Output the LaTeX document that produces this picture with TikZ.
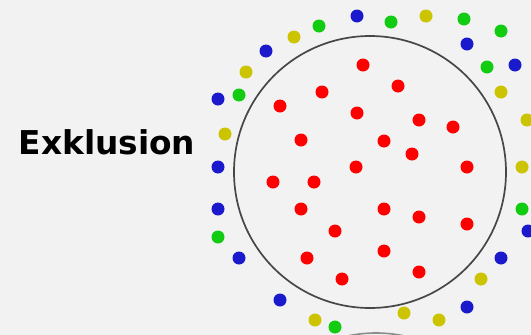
\documentclass[tikz,border=0pt]{standalone}
\usepackage{fontspec}
\setmainfont{DejaVu Sans}
\usepackage{xcolor}
\usetikzlibrary{positioning}
\definecolor{bgfarbe}{HTML}{F2F2F2}
\definecolor{rot}{HTML}{FF0000}
\definecolor{blau}{HTML}{1A1ACC}
\definecolor{gruen}{HTML}{11CC11}
\definecolor{gelb}{HTML}{CCC400}
\tikzset{
  punkt/.style={fill=#1,draw=none},
  rand/.style={draw=black!72,line width=1.7pt},
  titel/.style={font=\fontsize{32.8}{38}\selectfont\bfseries,anchor=base west,inner sep=0pt}
}

\begin{document}
\begin{tikzpicture}[x=1pt,y=-1pt]
\useasboundingbox[fill=bgfarbe] (0,0) rectangle (531,335);
% Kreise
\draw[rand] (370,172) circle (136);
\draw[draw=black!45,line width=1.6pt] (376,469) circle (136);
% Titel
\node[titel] (exklusion) at (18.5,154) {Exklusion};
% Punkte innen
\foreach \x/\y in {363/65,398/86,322/92,280/106,357/113,419/120,453/127,301/140,
  384/141,412/154,356/167,467/167,273/182,314/182,301/209,384/209,419/217,
  467/224,335/231,307/258,384/251,342/279,419/272}
  \fill[punkt=rot] (\x,\y) circle (6.5);
% Punkte aussen
\foreach \x/\y in {357/16,266/51,218/99,218/167,218/209,239/258,280/300,
  467/44,515/65,528/231,501/258,467/307}
  \fill[punkt=blau] (\x,\y) circle (6.5);
\foreach \x/\y in {319/26,239/95,391/22,464/19,501/31,487/67,522/209,218/237,335/327}
  \fill[punkt=gruen] (\x,\y) circle (6.5);
\foreach \x/\y in {294/37,246/72,225/134,426/16,501/92,527/120,522/167,
  481/279,439/320,404/313,315/320}
  \fill[punkt=gelb] (\x,\y) circle (6.5);
\end{tikzpicture}
\end{document}
